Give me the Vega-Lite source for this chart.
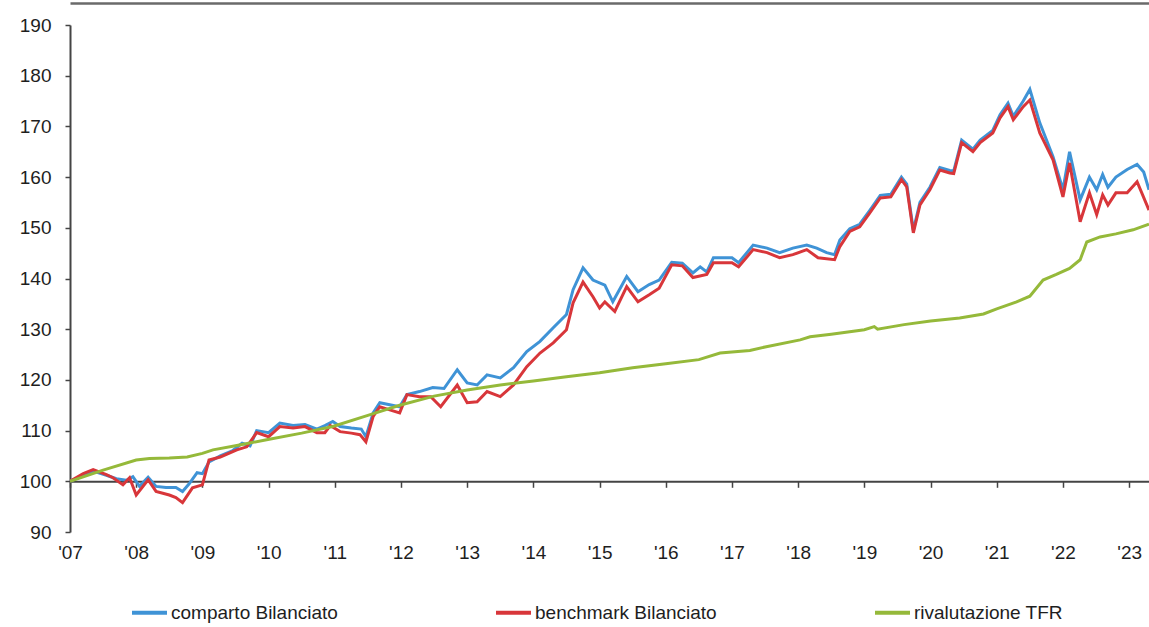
{
  "$schema": "https://vega.github.io/schema/vega-lite/v6.json",
  "width": 1079,
  "height": 507,
  "autosize": {"type": "none"},
  "padding": {"left": 70, "top": 25, "right": 0, "bottom": 95},
  "background": "white",
  "config": {
    "font": "Liberation Sans",
    "view": {"stroke": null},
    "axis": {"labelFont": "Liberation Sans", "labelFontSize": 19, "labelColor": "#1e1e1e", "domainColor": "#444", "tickColor": "#444", "domainWidth": 2, "tickWidth": 1.5, "grid": false, "title": null}
  },
  "data": {"values": [
    {"t":2007.0,"s":"comparto Bilanciato","v":100},
    {"t":2007.2,"s":"comparto Bilanciato","v":101.2},
    {"t":2007.35,"s":"comparto Bilanciato","v":102.0},
    {"t":2007.55,"s":"comparto Bilanciato","v":101.2},
    {"t":2007.7,"s":"comparto Bilanciato","v":100.5},
    {"t":2007.85,"s":"comparto Bilanciato","v":100.2},
    {"t":2007.95,"s":"comparto Bilanciato","v":100.9},
    {"t":2008.05,"s":"comparto Bilanciato","v":99.0},
    {"t":2008.18,"s":"comparto Bilanciato","v":100.8},
    {"t":2008.3,"s":"comparto Bilanciato","v":99.0},
    {"t":2008.45,"s":"comparto Bilanciato","v":98.8},
    {"t":2008.6,"s":"comparto Bilanciato","v":98.8},
    {"t":2008.7,"s":"comparto Bilanciato","v":98.0},
    {"t":2008.8,"s":"comparto Bilanciato","v":99.5},
    {"t":2008.92,"s":"comparto Bilanciato","v":101.7},
    {"t":2009.0,"s":"comparto Bilanciato","v":101.5},
    {"t":2009.1,"s":"comparto Bilanciato","v":103.8},
    {"t":2009.27,"s":"comparto Bilanciato","v":105.0},
    {"t":2009.45,"s":"comparto Bilanciato","v":106.0},
    {"t":2009.6,"s":"comparto Bilanciato","v":107.5},
    {"t":2009.72,"s":"comparto Bilanciato","v":107.0},
    {"t":2009.82,"s":"comparto Bilanciato","v":110.0},
    {"t":2010.0,"s":"comparto Bilanciato","v":109.6},
    {"t":2010.17,"s":"comparto Bilanciato","v":111.5},
    {"t":2010.37,"s":"comparto Bilanciato","v":111.0},
    {"t":2010.55,"s":"comparto Bilanciato","v":111.2},
    {"t":2010.73,"s":"comparto Bilanciato","v":110.3},
    {"t":2010.85,"s":"comparto Bilanciato","v":111.0},
    {"t":2010.97,"s":"comparto Bilanciato","v":111.8},
    {"t":2011.08,"s":"comparto Bilanciato","v":110.8},
    {"t":2011.25,"s":"comparto Bilanciato","v":110.5},
    {"t":2011.4,"s":"comparto Bilanciato","v":110.3},
    {"t":2011.47,"s":"comparto Bilanciato","v":108.8},
    {"t":2011.58,"s":"comparto Bilanciato","v":113.5},
    {"t":2011.68,"s":"comparto Bilanciato","v":115.5},
    {"t":2011.83,"s":"comparto Bilanciato","v":115.1},
    {"t":2011.98,"s":"comparto Bilanciato","v":114.7},
    {"t":2012.09,"s":"comparto Bilanciato","v":117.1},
    {"t":2012.28,"s":"comparto Bilanciato","v":117.7},
    {"t":2012.48,"s":"comparto Bilanciato","v":118.5},
    {"t":2012.65,"s":"comparto Bilanciato","v":118.3},
    {"t":2012.85,"s":"comparto Bilanciato","v":122.0},
    {"t":2013.0,"s":"comparto Bilanciato","v":119.4},
    {"t":2013.15,"s":"comparto Bilanciato","v":119.0},
    {"t":2013.3,"s":"comparto Bilanciato","v":121.0},
    {"t":2013.5,"s":"comparto Bilanciato","v":120.4},
    {"t":2013.7,"s":"comparto Bilanciato","v":122.4},
    {"t":2013.9,"s":"comparto Bilanciato","v":125.6},
    {"t":2014.1,"s":"comparto Bilanciato","v":127.6},
    {"t":2014.3,"s":"comparto Bilanciato","v":130.3},
    {"t":2014.5,"s":"comparto Bilanciato","v":132.9},
    {"t":2014.6,"s":"comparto Bilanciato","v":137.8},
    {"t":2014.75,"s":"comparto Bilanciato","v":142.1},
    {"t":2014.9,"s":"comparto Bilanciato","v":139.7},
    {"t":2015.08,"s":"comparto Bilanciato","v":138.7},
    {"t":2015.2,"s":"comparto Bilanciato","v":135.4},
    {"t":2015.41,"s":"comparto Bilanciato","v":140.4},
    {"t":2015.58,"s":"comparto Bilanciato","v":137.4},
    {"t":2015.75,"s":"comparto Bilanciato","v":138.8},
    {"t":2015.9,"s":"comparto Bilanciato","v":139.7},
    {"t":2016.09,"s":"comparto Bilanciato","v":143.2},
    {"t":2016.25,"s":"comparto Bilanciato","v":143.0},
    {"t":2016.41,"s":"comparto Bilanciato","v":141.1},
    {"t":2016.52,"s":"comparto Bilanciato","v":142.3},
    {"t":2016.62,"s":"comparto Bilanciato","v":141.3},
    {"t":2016.72,"s":"comparto Bilanciato","v":144.1},
    {"t":2017.0,"s":"comparto Bilanciato","v":144.1},
    {"t":2017.1,"s":"comparto Bilanciato","v":143.1},
    {"t":2017.32,"s":"comparto Bilanciato","v":146.6},
    {"t":2017.53,"s":"comparto Bilanciato","v":146.0},
    {"t":2017.72,"s":"comparto Bilanciato","v":145.1},
    {"t":2017.92,"s":"comparto Bilanciato","v":146.0},
    {"t":2018.13,"s":"comparto Bilanciato","v":146.6},
    {"t":2018.28,"s":"comparto Bilanciato","v":146.0},
    {"t":2018.43,"s":"comparto Bilanciato","v":145.1},
    {"t":2018.55,"s":"comparto Bilanciato","v":144.7},
    {"t":2018.63,"s":"comparto Bilanciato","v":147.6},
    {"t":2018.78,"s":"comparto Bilanciato","v":149.8},
    {"t":2018.93,"s":"comparto Bilanciato","v":150.7},
    {"t":2019.08,"s":"comparto Bilanciato","v":153.4},
    {"t":2019.24,"s":"comparto Bilanciato","v":156.4},
    {"t":2019.4,"s":"comparto Bilanciato","v":156.6},
    {"t":2019.56,"s":"comparto Bilanciato","v":160.0},
    {"t":2019.64,"s":"comparto Bilanciato","v":158.6},
    {"t":2019.74,"s":"comparto Bilanciato","v":149.5},
    {"t":2019.84,"s":"comparto Bilanciato","v":155.0},
    {"t":2019.99,"s":"comparto Bilanciato","v":158.0},
    {"t":2020.14,"s":"comparto Bilanciato","v":161.9},
    {"t":2020.29,"s":"comparto Bilanciato","v":161.3},
    {"t":2020.35,"s":"comparto Bilanciato","v":161.2},
    {"t":2020.47,"s":"comparto Bilanciato","v":167.3},
    {"t":2020.64,"s":"comparto Bilanciato","v":165.5},
    {"t":2020.75,"s":"comparto Bilanciato","v":167.3},
    {"t":2020.94,"s":"comparto Bilanciato","v":169.2},
    {"t":2021.05,"s":"comparto Bilanciato","v":172.3},
    {"t":2021.17,"s":"comparto Bilanciato","v":174.6},
    {"t":2021.25,"s":"comparto Bilanciato","v":172.0},
    {"t":2021.4,"s":"comparto Bilanciato","v":175.0},
    {"t":2021.5,"s":"comparto Bilanciato","v":177.3},
    {"t":2021.65,"s":"comparto Bilanciato","v":170.7},
    {"t":2021.85,"s":"comparto Bilanciato","v":164.0},
    {"t":2022.0,"s":"comparto Bilanciato","v":157.5},
    {"t":2022.1,"s":"comparto Bilanciato","v":165.0},
    {"t":2022.26,"s":"comparto Bilanciato","v":155.5},
    {"t":2022.4,"s":"comparto Bilanciato","v":160.0},
    {"t":2022.51,"s":"comparto Bilanciato","v":157.5},
    {"t":2022.6,"s":"comparto Bilanciato","v":160.5},
    {"t":2022.68,"s":"comparto Bilanciato","v":158.0},
    {"t":2022.8,"s":"comparto Bilanciato","v":160.0},
    {"t":2022.97,"s":"comparto Bilanciato","v":161.5},
    {"t":2023.12,"s":"comparto Bilanciato","v":162.5},
    {"t":2023.22,"s":"comparto Bilanciato","v":161.0},
    {"t":2023.3,"s":"comparto Bilanciato","v":157.5},
    {"t":2007.0,"s":"benchmark Bilanciato","v":100},
    {"t":2007.2,"s":"benchmark Bilanciato","v":101.5},
    {"t":2007.35,"s":"benchmark Bilanciato","v":102.3},
    {"t":2007.55,"s":"benchmark Bilanciato","v":101.3},
    {"t":2007.65,"s":"benchmark Bilanciato","v":100.7},
    {"t":2007.8,"s":"benchmark Bilanciato","v":99.3},
    {"t":2007.9,"s":"benchmark Bilanciato","v":100.7},
    {"t":2008.0,"s":"benchmark Bilanciato","v":97.3},
    {"t":2008.18,"s":"benchmark Bilanciato","v":100.3},
    {"t":2008.3,"s":"benchmark Bilanciato","v":98.0},
    {"t":2008.5,"s":"benchmark Bilanciato","v":97.3},
    {"t":2008.6,"s":"benchmark Bilanciato","v":96.8},
    {"t":2008.7,"s":"benchmark Bilanciato","v":95.8},
    {"t":2008.85,"s":"benchmark Bilanciato","v":98.7},
    {"t":2009.0,"s":"benchmark Bilanciato","v":99.3},
    {"t":2009.1,"s":"benchmark Bilanciato","v":104.2},
    {"t":2009.27,"s":"benchmark Bilanciato","v":104.8},
    {"t":2009.52,"s":"benchmark Bilanciato","v":106.2},
    {"t":2009.67,"s":"benchmark Bilanciato","v":106.8},
    {"t":2009.82,"s":"benchmark Bilanciato","v":109.6},
    {"t":2010.0,"s":"benchmark Bilanciato","v":108.8},
    {"t":2010.17,"s":"benchmark Bilanciato","v":110.8},
    {"t":2010.37,"s":"benchmark Bilanciato","v":110.5},
    {"t":2010.55,"s":"benchmark Bilanciato","v":110.8},
    {"t":2010.73,"s":"benchmark Bilanciato","v":109.6},
    {"t":2010.85,"s":"benchmark Bilanciato","v":109.6},
    {"t":2010.93,"s":"benchmark Bilanciato","v":111.0},
    {"t":2011.08,"s":"benchmark Bilanciato","v":109.8},
    {"t":2011.25,"s":"benchmark Bilanciato","v":109.5},
    {"t":2011.38,"s":"benchmark Bilanciato","v":109.2},
    {"t":2011.47,"s":"benchmark Bilanciato","v":107.8},
    {"t":2011.58,"s":"benchmark Bilanciato","v":112.8},
    {"t":2011.68,"s":"benchmark Bilanciato","v":114.7},
    {"t":2011.83,"s":"benchmark Bilanciato","v":114.1},
    {"t":2011.98,"s":"benchmark Bilanciato","v":113.5},
    {"t":2012.09,"s":"benchmark Bilanciato","v":117.1},
    {"t":2012.28,"s":"benchmark Bilanciato","v":116.7},
    {"t":2012.45,"s":"benchmark Bilanciato","v":116.7},
    {"t":2012.6,"s":"benchmark Bilanciato","v":114.7},
    {"t":2012.85,"s":"benchmark Bilanciato","v":119.0},
    {"t":2013.0,"s":"benchmark Bilanciato","v":115.5},
    {"t":2013.15,"s":"benchmark Bilanciato","v":115.7},
    {"t":2013.3,"s":"benchmark Bilanciato","v":117.7},
    {"t":2013.5,"s":"benchmark Bilanciato","v":116.7},
    {"t":2013.7,"s":"benchmark Bilanciato","v":119.0},
    {"t":2013.9,"s":"benchmark Bilanciato","v":122.6},
    {"t":2014.1,"s":"benchmark Bilanciato","v":125.3},
    {"t":2014.3,"s":"benchmark Bilanciato","v":127.3},
    {"t":2014.5,"s":"benchmark Bilanciato","v":129.9},
    {"t":2014.6,"s":"benchmark Bilanciato","v":135.2},
    {"t":2014.75,"s":"benchmark Bilanciato","v":139.3},
    {"t":2014.9,"s":"benchmark Bilanciato","v":136.4},
    {"t":2015.0,"s":"benchmark Bilanciato","v":134.2},
    {"t":2015.08,"s":"benchmark Bilanciato","v":135.4},
    {"t":2015.23,"s":"benchmark Bilanciato","v":133.5},
    {"t":2015.41,"s":"benchmark Bilanciato","v":138.4},
    {"t":2015.58,"s":"benchmark Bilanciato","v":135.4},
    {"t":2015.75,"s":"benchmark Bilanciato","v":136.8},
    {"t":2015.9,"s":"benchmark Bilanciato","v":138.1},
    {"t":2016.09,"s":"benchmark Bilanciato","v":142.7},
    {"t":2016.25,"s":"benchmark Bilanciato","v":142.5},
    {"t":2016.41,"s":"benchmark Bilanciato","v":140.2},
    {"t":2016.62,"s":"benchmark Bilanciato","v":140.8},
    {"t":2016.72,"s":"benchmark Bilanciato","v":143.1},
    {"t":2017.0,"s":"benchmark Bilanciato","v":143.1},
    {"t":2017.1,"s":"benchmark Bilanciato","v":142.3},
    {"t":2017.32,"s":"benchmark Bilanciato","v":145.7},
    {"t":2017.53,"s":"benchmark Bilanciato","v":145.1},
    {"t":2017.72,"s":"benchmark Bilanciato","v":144.1},
    {"t":2017.92,"s":"benchmark Bilanciato","v":144.7},
    {"t":2018.13,"s":"benchmark Bilanciato","v":145.7},
    {"t":2018.3,"s":"benchmark Bilanciato","v":144.1},
    {"t":2018.55,"s":"benchmark Bilanciato","v":143.7},
    {"t":2018.63,"s":"benchmark Bilanciato","v":146.3},
    {"t":2018.78,"s":"benchmark Bilanciato","v":149.3},
    {"t":2018.93,"s":"benchmark Bilanciato","v":150.2},
    {"t":2019.08,"s":"benchmark Bilanciato","v":152.9},
    {"t":2019.24,"s":"benchmark Bilanciato","v":155.9},
    {"t":2019.4,"s":"benchmark Bilanciato","v":156.1},
    {"t":2019.56,"s":"benchmark Bilanciato","v":159.5},
    {"t":2019.64,"s":"benchmark Bilanciato","v":158.1},
    {"t":2019.74,"s":"benchmark Bilanciato","v":149.0},
    {"t":2019.84,"s":"benchmark Bilanciato","v":154.5},
    {"t":2019.99,"s":"benchmark Bilanciato","v":157.5},
    {"t":2020.14,"s":"benchmark Bilanciato","v":161.4},
    {"t":2020.29,"s":"benchmark Bilanciato","v":160.8},
    {"t":2020.35,"s":"benchmark Bilanciato","v":160.7},
    {"t":2020.47,"s":"benchmark Bilanciato","v":166.8},
    {"t":2020.64,"s":"benchmark Bilanciato","v":165.0},
    {"t":2020.75,"s":"benchmark Bilanciato","v":166.8},
    {"t":2020.94,"s":"benchmark Bilanciato","v":168.7},
    {"t":2021.05,"s":"benchmark Bilanciato","v":171.7},
    {"t":2021.17,"s":"benchmark Bilanciato","v":173.9},
    {"t":2021.25,"s":"benchmark Bilanciato","v":171.3},
    {"t":2021.4,"s":"benchmark Bilanciato","v":173.9},
    {"t":2021.5,"s":"benchmark Bilanciato","v":175.2},
    {"t":2021.65,"s":"benchmark Bilanciato","v":168.7},
    {"t":2021.85,"s":"benchmark Bilanciato","v":163.4},
    {"t":2022.0,"s":"benchmark Bilanciato","v":156.1},
    {"t":2022.1,"s":"benchmark Bilanciato","v":162.8},
    {"t":2022.26,"s":"benchmark Bilanciato","v":151.2},
    {"t":2022.4,"s":"benchmark Bilanciato","v":156.9},
    {"t":2022.51,"s":"benchmark Bilanciato","v":152.6},
    {"t":2022.6,"s":"benchmark Bilanciato","v":156.5},
    {"t":2022.68,"s":"benchmark Bilanciato","v":154.5},
    {"t":2022.8,"s":"benchmark Bilanciato","v":156.9},
    {"t":2022.97,"s":"benchmark Bilanciato","v":156.9},
    {"t":2023.12,"s":"benchmark Bilanciato","v":159.1},
    {"t":2023.3,"s":"benchmark Bilanciato","v":153.5},
    {"t":2007.0,"s":"rivalutazione TFR","v":100},
    {"t":2007.5,"s":"rivalutazione TFR","v":102.2},
    {"t":2008.0,"s":"rivalutazione TFR","v":104.2},
    {"t":2008.2,"s":"rivalutazione TFR","v":104.5},
    {"t":2008.5,"s":"rivalutazione TFR","v":104.6},
    {"t":2008.77,"s":"rivalutazione TFR","v":104.8},
    {"t":2009.0,"s":"rivalutazione TFR","v":105.5},
    {"t":2009.16,"s":"rivalutazione TFR","v":106.2},
    {"t":2009.5,"s":"rivalutazione TFR","v":107.0},
    {"t":2009.97,"s":"rivalutazione TFR","v":108.2},
    {"t":2010.5,"s":"rivalutazione TFR","v":109.5},
    {"t":2010.97,"s":"rivalutazione TFR","v":110.8},
    {"t":2011.5,"s":"rivalutazione TFR","v":113.0},
    {"t":2011.98,"s":"rivalutazione TFR","v":115.0},
    {"t":2012.5,"s":"rivalutazione TFR","v":116.8},
    {"t":2013.0,"s":"rivalutazione TFR","v":118.0},
    {"t":2013.5,"s":"rivalutazione TFR","v":119.0},
    {"t":2014.0,"s":"rivalutazione TFR","v":119.8},
    {"t":2014.5,"s":"rivalutazione TFR","v":120.6},
    {"t":2015.0,"s":"rivalutazione TFR","v":121.4},
    {"t":2015.5,"s":"rivalutazione TFR","v":122.4},
    {"t":2016.0,"s":"rivalutazione TFR","v":123.2},
    {"t":2016.5,"s":"rivalutazione TFR","v":124.0},
    {"t":2016.82,"s":"rivalutazione TFR","v":125.3},
    {"t":2017.27,"s":"rivalutazione TFR","v":125.8},
    {"t":2017.5,"s":"rivalutazione TFR","v":126.5},
    {"t":2018.03,"s":"rivalutazione TFR","v":127.9},
    {"t":2018.18,"s":"rivalutazione TFR","v":128.5},
    {"t":2018.5,"s":"rivalutazione TFR","v":129.0},
    {"t":2019.0,"s":"rivalutazione TFR","v":129.9},
    {"t":2019.15,"s":"rivalutazione TFR","v":130.5},
    {"t":2019.2,"s":"rivalutazione TFR","v":130.0},
    {"t":2019.6,"s":"rivalutazione TFR","v":130.9},
    {"t":2020.0,"s":"rivalutazione TFR","v":131.6},
    {"t":2020.44,"s":"rivalutazione TFR","v":132.2},
    {"t":2020.8,"s":"rivalutazione TFR","v":133.0},
    {"t":2021.0,"s":"rivalutazione TFR","v":134.0},
    {"t":2021.3,"s":"rivalutazione TFR","v":135.4},
    {"t":2021.5,"s":"rivalutazione TFR","v":136.5},
    {"t":2021.7,"s":"rivalutazione TFR","v":139.7},
    {"t":2021.9,"s":"rivalutazione TFR","v":140.8},
    {"t":2022.1,"s":"rivalutazione TFR","v":142.0},
    {"t":2022.26,"s":"rivalutazione TFR","v":143.7},
    {"t":2022.36,"s":"rivalutazione TFR","v":147.2},
    {"t":2022.56,"s":"rivalutazione TFR","v":148.2},
    {"t":2022.8,"s":"rivalutazione TFR","v":148.8},
    {"t":2023.06,"s":"rivalutazione TFR","v":149.6},
    {"t":2023.3,"s":"rivalutazione TFR","v":150.7}
  ]},
  "encoding": {
    "y": {
      "field": "v", "type": "quantitative",
      "scale": {"domain": [90, 190], "nice": false, "zero": false},
      "axis": {"values": [90,100,110,120,130,140,150,160,170,180,190], "tickSize": 5, "labelPadding": 14, "labelFlush": false}
    },
    "color": {
      "field": "s", "type": "nominal",
      "scale": {"domain": ["comparto Bilanciato", "benchmark Bilanciato", "rivalutazione TFR"], "range": ["#3f93d6", "#d8363a", "#95b93a"]},
      "legend": {
        "title": null, "orient": "none", "legendX": 60, "legendY": 568, "direction": "horizontal",
        "symbolType": "stroke", "symbolSize": 1225, "symbolStrokeWidth": 4,
        "labelFontSize": 19, "labelColor": "#1e1e1e", "labelOffset": 2, "columnPadding": 150, "labelLimit": 400
      }
    }
  },
  "layer": [
    {
      "transform": [{"filter": "datum.s !== 'rivalutazione TFR'"}],
      "mark": {"type": "line", "strokeWidth": 3, "clip": true},
      "encoding": {
        "x": {
          "field": "t", "type": "quantitative",
          "scale": {"domain": [2007, 2023.3], "nice": false, "zero": false},
          "axis": {
            "values": [2007,2008,2009,2010,2011,2012,2013,2014,2015,2016,2017,2018,2019,2020,2021,2022,2023],
            "labelExpr": "\"'\" + slice(format(datum.value, 'd'), 2)",
            "offset": -50.7, "tickSize": 6, "labelPadding": 56, "labelFlush": false, "labelOverlap": false
          }
        }
      }
    },
    {
      "transform": [{"filter": "datum.s === 'rivalutazione TFR'"}],
      "mark": {"type": "line", "strokeWidth": 3, "clip": true},
      "encoding": {
        "x": {
          "field": "t", "type": "quantitative",
          "scale": {"domain": [2007, 2023.3], "nice": false, "zero": false},
          "axis": {"orient": "top", "offset": 22, "labels": false, "ticks": false, "domainColor": "#6a6a6a", "domainWidth": 2.5}
        }
      }
    }
  ],
  "resolve": {"axis": {"x": "independent"}}
}
